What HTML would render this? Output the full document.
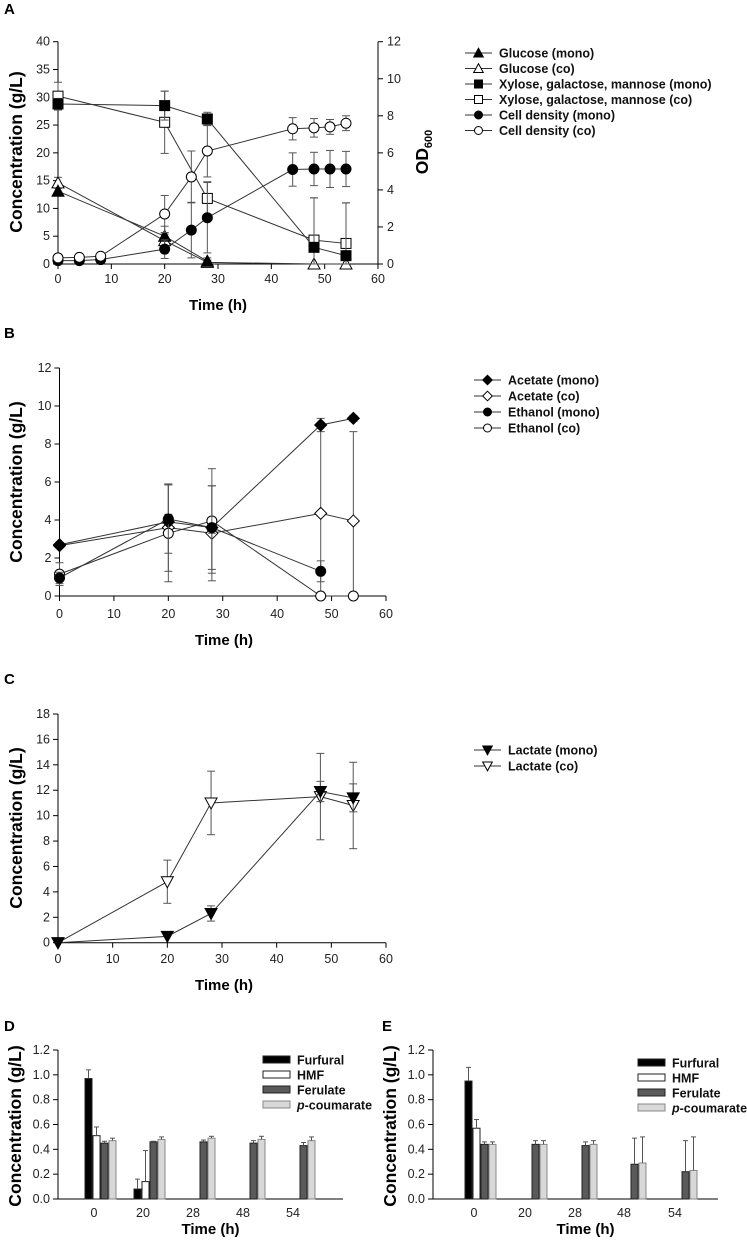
<!DOCTYPE html>
<html><head><meta charset="utf-8"><style>
body{margin:0;background:#fff;}
svg{display:block;font-family:"Liberation Sans",Arial,sans-serif;}
.t{font-size:12.5px;fill:#222}
.b{font-size:15px;font-weight:bold;fill:#000}
.yt{font-size:17.5px;font-weight:bold;fill:#000}
.lg{font-size:12.5px;font-weight:bold;fill:#111}
</style></head><body>
<svg id="fig" width="747" height="1240" viewBox="0 0 747 1240" xmlns="http://www.w3.org/2000/svg"></svg>
<script>
// ---- Panel A data ----
const aTimes5 = [0,20,28,48,54];
const aGluMonoT = [0,20,28];
const aGluMono = [13.1,5.0,0.5];
const aGluMonoErr = [0.6,1.8,0.6];
const aGluCo = [14.6,4.2,0.3,0,0];
const aGluCoErr = [1.0,1.2,0.4,0,0];
const aXylMono = [28.8,28.5,26.1,3.0,1.5];
const aXylMonoErr = [1.0,2.6,1.2,8.9,9.5];
const aXylCo = [30.2,25.5,11.8,4.3,3.7];
const aXylCoErr = [2.5,5.6,3.0,7.6,7.3];
const aCellT = [0,4,8,20,25,28,44,48,51,54];
const aCellMono = [0.18,0.18,0.24,0.8,1.83,2.5,5.1,5.13,5.13,5.13];
const aCellMonoErr = [0.05,0.05,0.05,0.5,1.5,1.9,0.9,0.9,1.0,0.95];
const aCellCo = [0.33,0.36,0.42,2.7,4.7,6.1,7.3,7.35,7.4,7.6];
const aCellCoErr = [0.05,0.05,0.05,1.0,1.4,1.4,0.6,0.5,0.4,0.4];
// ---- Panel B data ----
const bTimes = [0,20,28,48,54];
const bAcMono = [2.7,3.9,3.6,9.0,9.35];
const bAcMonoErr = [0.1,0.4,0.3,0.35,0.15];
const bAcCo = [2.65,3.6,3.3,4.35,3.95];
const bAcCoErr = [0.1,2.3,2.5,4.7,4.7];
const bEtMonoT = [0,20,28,48];
const bEtMono = [0.95,4.05,3.6,1.3];
const bEtMonoErr = [0.3,1.8,2.2,0.55];
const bEtCo = [1.15,3.3,3.95,0,0];
const bEtCoErr = [0.6,2.55,2.75,0,0];
// ---- Panel C data ----
const cTimes = [0,20,28,48,54];
const cLacMono = [0,0.5,2.3,11.9,11.4];
const cLacMonoErr = [0,0,0.6,0.8,1.1];
const cLacCo = [0,4.8,11.0,11.5,10.8];
const cLacCoErr = [0,1.7,2.5,3.4,3.4];
// ---- Panels D/E data ----
const barCats = ["0","20","28","48","54"];
const dFurfural = [0.97,0.08,0,0,0];
const dFurfuralErr = [0.07,0.08,0,0,0];
const dHMF = [0.51,0.14,0,0,0];
const dHMFErr = [0.07,0.25,0,0,0];
const dFerulate = [0.45,0.46,0.46,0.45,0.43];
const dFerulateErr = [0.015,0.005,0.015,0.02,0.025];
const dCoum = [0.47,0.48,0.49,0.48,0.47];
const dCoumErr = [0.02,0.02,0.015,0.025,0.03];
const eFurfural = [0.95,0,0,0,0];
const eFurfuralErr = [0.11,0,0,0,0];
const eHMF = [0.57,0,0,0,0];
const eHMFErr = [0.07,0,0,0,0];
const eFerulate = [0.44,0.44,0.43,0.28,0.22];
const eFerulateErr = [0.02,0.03,0.03,0.21,0.25];
const eCoum = [0.44,0.44,0.44,0.29,0.23];
const eCoumErr = [0.02,0.03,0.03,0.21,0.27];
const tickLin = [0,10,20,30,40,50,60];

const NS="http://www.w3.org/2000/svg";
const svg=document.getElementById('fig');
function mk(tag,at,parent){const e=document.createElementNS(NS,tag);for(const k in at)e.setAttribute(k,at[k]);(parent||svg).appendChild(e);return e;}
function txt(x,y,s,cls,anchor,parent){const e=mk('text',{x:x,y:y,class:cls,'text-anchor':anchor||'middle'},parent);e.textContent=s;return e;}

function marker(g,shape,fill,x,y,r){
  r=r||1;let e;const f=fill?'#000':'#fff';
  if(shape==='circle') e=mk('circle',{cx:x,cy:y,r:5*r,fill:f,stroke:'#000','stroke-width':1},g);
  else if(shape==='square') e=mk('rect',{x:x-5*r,y:y-5*r,width:10*r,height:10*r,fill:f,stroke:'#000','stroke-width':1},g);
  else if(shape==='tri') e=mk('polygon',{points:`${x},${y-6*r} ${x+6*r},${y+5*r} ${x-6*r},${y+5*r}`,fill:f,stroke:'#000','stroke-width':1},g);
  else if(shape==='tridown') e=mk('polygon',{points:`${x-6*r},${y-5*r} ${x+6*r},${y-5*r} ${x},${y+6*r}`,fill:f,stroke:'#000','stroke-width':1},g);
  else if(shape==='diamond') e=mk('polygon',{points:`${x},${y-6*r} ${x+6*r},${y} ${x},${y+6*r} ${x-6*r},${y}`,fill:f,stroke:'#000','stroke-width':1},g);
  return e;
}

function series(g,name,xs,ys,errs,sx,sy,shape,fill,ymin){
  const sg=mk('g',{},g);
  
  
  mk('polyline',{points:xs.map((t,i)=>sx(t)+','+sy(ys[i])).join(' '),fill:'none',stroke:'#333','stroke-width':1},sg);
  xs.forEach((t,i)=>{
    const e=errs[i]; if(!e) return;
    const x=sx(t), y1=sy(ys[i]+e), y2=sy(Math.max(ymin,ys[i]-e));
    mk('line',{x1:x,x2:x,y1:y1,y2:y2,stroke:'#555','stroke-width':1},sg);
    mk('line',{x1:x-4,x2:x+4,y1:y1,y2:y1,stroke:'#555','stroke-width':1},sg);
    mk('line',{x1:x-4,x2:x+4,y1:y2,y2:y2,stroke:'#555','stroke-width':1},sg);
  });
  xs.forEach((t,i)=>{const m=marker(sg,shape,fill,sx(t),sy(ys[i]));
    
    });
}

function axes(g,x0,x1,yb,yt,yticks,ymax,tickY,timeY,timeX,labelX,labelY){
  mk('line',{x1:x0,x2:x1,y1:yb,y2:yb,stroke:'#000'},g);
  mk('line',{x1:x0,x2:x0,y1:yb,y2:yt,stroke:'#000'},g);
  tickLin.forEach(v=>{const x=x0+(x1-x0)*v/60;mk('line',{x1:x,x2:x,y1:yb,y2:yb+5,stroke:'#000'},g);txt(x,tickY,String(v),'t','middle',g);});
  yticks.forEach(v=>{const y=yb-(yb-yt)*v/ymax;mk('line',{x1:x0-5,x2:x0,y1:y,y2:y,stroke:'#000'},g);txt(x0-8,y+4,String(v),'t','end',g);});
  const xt=txt(timeX,timeY,'Time (h)','b','middle',g);
  
  
  const yl=txt(0,0,'Concentration (g/L)','yt','middle',g);
  yl.setAttribute('transform',`translate(${labelX},${labelY}) rotate(-90)`);
  
  
}

function legend(g,x,y,dy,items){
  items.forEach((it,i)=>{
    const lg=mk('g',{},g);
    
    
    const yy=y+i*dy;
    mk('line',{x1:x,x2:x+27,y1:yy,y2:yy,stroke:'#333'},lg);
    marker(lg,it[1],it[2],x+13.5,yy,0.8);
    txt(x+34,yy+4.5,it[0],'lg','start',lg);
  });
}

function panelLabel(x,y,s){const e=txt(x,y,s,'b','start');}

// ---- Panel A ----
{
  const g=mk('g',{});
  const x0=58,x1=378,yb=264,yt=41.7;
  const sx=t=>x0+(x1-x0)*t/60, sy=v=>yb-(yb-yt)*v/40, so=v=>yb-(yb-yt)*v/12;
  panelLabel(4,14,'A');
  axes(g,x0,x1,yb,yt,[0,5,10,15,20,25,30,35,40],40,283,310,218,22,152);
  mk('line',{x1:x1,x2:x1,y1:yb,y2:yt,stroke:'#000'},g);
  [0,2,4,6,8,10,12].forEach(v=>{const y=so(v);mk('line',{x1:x1,x2:x1+5,y1:y,y2:y,stroke:'#000'},g);txt(x1+9,y+4,String(v),'t','start',g);});
  const od=mk('text',{class:'yt','text-anchor':'middle',transform:'translate(428,152) rotate(-90)'},g);
  
  od.innerHTML='OD<tspan dy="4" font-size="11">600</tspan>';
  series(g,'glucose-co',aTimes5,aGluCo,aGluCoErr,sx,sy,'tri',false,0);
  series(g,'glucose-mono',aGluMonoT,aGluMono,aGluMonoErr,sx,sy,'tri',true,0);
  series(g,'xylose-co',aTimes5,aXylCo,aXylCoErr,sx,sy,'square',false,0);
  series(g,'xylose-mono',aTimes5,aXylMono,aXylMonoErr,sx,sy,'square',true,0);
  series(g,'cell-density-mono',aCellT,aCellMono,aCellMonoErr,sx,so,'circle',true,0);
  series(g,'cell-density-co',aCellT,aCellCo,aCellCoErr,sx,so,'circle',false,0);
  legend(g,465,53,15.5,[['Glucose (mono)','tri',true],['Glucose (co)','tri',false],['Xylose, galactose, mannose (mono)','square',true],['Xylose, galactose, mannose (co)','square',false],['Cell density (mono)','circle',true],['Cell density (co)','circle',false]]);
}
// ---- Panel B ----
{
  const g=mk('g',{});
  const x0=59.5,x1=386,yb=596,yt=368;
  const sx=t=>x0+(x1-x0)*t/60, sy=v=>yb-(yb-yt)*v/12;
  panelLabel(4,338,'B');
  axes(g,x0,x1,yb,yt,[0,2,4,6,8,10,12],12,618,645,224,22,482);
  series(g,'acetate-co',bTimes,bAcCo,bAcCoErr,sx,sy,'diamond',false,0);
  series(g,'acetate-mono',bTimes,bAcMono,bAcMonoErr,sx,sy,'diamond',true,0);
  series(g,'ethanol-co',bTimes,bEtCo,bEtCoErr,sx,sy,'circle',false,0);
  series(g,'ethanol-mono',bEtMonoT,bEtMono,bEtMonoErr,sx,sy,'circle',true,0);
  legend(g,474,380,16,[['Acetate (mono)','diamond',true],['Acetate (co)','diamond',false],['Ethanol (mono)','circle',true],['Ethanol (co)','circle',false]]);
}
// ---- Panel C ----
{
  const g=mk('g',{});
  const x0=58,x1=386,yb=942.7,yt=714;
  const sx=t=>x0+(x1-x0)*t/60, sy=v=>yb-(yb-yt)*v/18;
  panelLabel(4,684,'C');
  axes(g,x0,x1,yb,yt,[0,2,4,6,8,10,12,14,16,18],18,963,990,224,22,828);
  series(g,'lactate-co',cTimes,cLacCo,cLacCoErr,sx,sy,'tridown',false,0);
  series(g,'lactate-mono',cTimes,cLacMono,cLacMonoErr,sx,sy,'tridown',true,0);
  legend(g,474,750,16,[['Lactate (mono)','tridown',true],['Lactate (co)','tridown',false]]);
}
// ---- Bar panels ----
function barPanel(name,lab,lx,x0,x1,catX,series4,legX,legY){
  const g=mk('g',{});
  const yb=1199,yt=1050,sy=v=>yb-(yb-yt)*v/1.2;
  panelLabel(lx,1031,lab);
  mk('line',{x1:x0,x2:x1,y1:yb,y2:yb,stroke:'#000'},g);
  mk('line',{x1:x0,x2:x0,y1:yb,y2:yt,stroke:'#000'},g);
  ['0.0','0.2','0.4','0.6','0.8','1.0','1.2'].forEach(s=>{const y=sy(parseFloat(s));mk('line',{x1:x0-5,x2:x0,y1:y,y2:y,stroke:'#000'},g);txt(x0-8,y+4,s,'t','end',g);});
  const fills=['#000','#fff','#5a5a5a','#d8d8d8'];
  barCats.forEach((c,i)=>{
    const cx=x0+catX[i];
    txt(cx,1217,c,'t','middle',g);
    series4.forEach((s,k)=>{
      const v=s[0][i],e=s[1][i]; if(!v) return;
      const bx=cx-9+k*8, y=sy(v);
      const r=mk('rect',{x:bx,y:y,width:7,height:yb-y,fill:fills[k],stroke:k==3?'#888':'#222','stroke-width':1},g);
      
      
      if(e){const ye=sy(v+e);mk('line',{x1:bx+3.5,x2:bx+3.5,y1:y,y2:ye,stroke:'#555'},g);mk('line',{x1:bx+1,x2:bx+6,y1:ye,y2:ye,stroke:'#555'},g);}
    });
  });
  const xt=txt(x0+(x1-x0)/2+10,1234,'Time (h)','b','middle',g);
  
  const yl=txt(0,0,'Concentration (g/L)','yt','middle',g);
  yl.setAttribute('transform',`translate(${x0-37},1126) rotate(-90)`);
  
  ['Furfural','HMF','Ferulate','coumarate'].forEach((s,k)=>{
    const lg=mk('g',{},g);
    
    
    const y=legY+k*15;
    mk('rect',{x:legX,y:y-4,width:27,height:7,fill:fills[k],stroke:k==3?'#888':'#222'},lg);
    const t=txt(legX+34,y+4.5,'','lg','start',lg);
    if(k==3){t.innerHTML='<tspan font-style="italic">p</tspan>-coumarate';}else t.textContent=s;
  });
}
barPanel('panel-d','D',4,58,343,[36,85,135,185,235],[[dFurfural,dFurfuralErr],[dHMF,dHMFErr],[dFerulate,dFerulateErr],[dCoum,dCoumErr]],263,1060);
barPanel('panel-e','E',382,433,718,[41,92,142,191,242],[[eFurfural,eFurfuralErr],[eHMF,eHMFErr],[eFerulate,eFerulateErr],[eCoum,eCoumErr]],638,1063);
</script>
</body></html>
